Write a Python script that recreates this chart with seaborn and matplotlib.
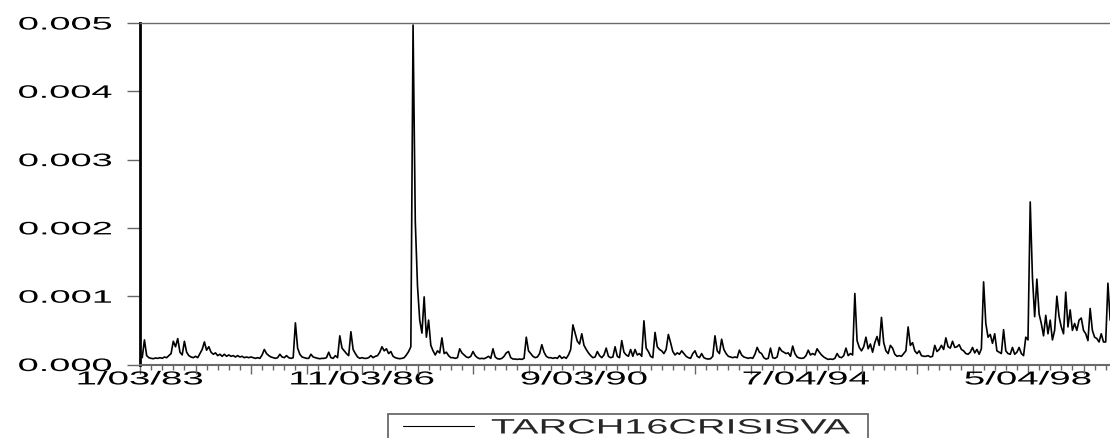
import numpy as np
import pandas as pd
import matplotlib
matplotlib.use("Agg")
import matplotlib.pyplot as plt
import seaborn as sns
from matplotlib.patheffects import AbstractPathEffect
from matplotlib.transforms import Affine2D
from matplotlib.ticker import FixedLocator, FuncFormatter
from matplotlib.patches import Rectangle
from matplotlib.lines import Line2D

# ---------------- data ----------------
SERIES_NAME = "TARCH16CRISISVA"
OBS_STEP = 10                      # one value every 10 trading-day observations
# conditional variance, in units of 1e-4
VOL_E4 = [
    1.2, 1.0, 3.6, 1.3, 1.0, 0.9, 0.85, 0.95, 0.9, 1.0,
    0.9, 1.1, 1.0, 1.3, 1.6, 3.4, 2.6, 3.8, 1.8, 1.4,
    3.4, 1.8, 1.3, 1.1, 1.0, 1.2, 1.0, 1.6, 2.2, 3.3,
    2.1, 2.6, 1.8, 1.5, 1.7, 1.3, 1.5, 1.2, 1.5, 1.2,
    1.4, 1.2, 1.3, 1.1, 1.3, 1.1, 1.2, 1.0, 1.1, 1.0,
    1.1, 1.0, 0.9, 1.0, 0.9, 1.4, 2.2, 1.6, 1.3, 1.1,
    1.0, 0.9, 1.0, 1.5, 1.1, 1.0, 1.3, 1.0, 0.9, 1.0,
    6.1, 2.4, 1.5, 1.1, 1.0, 0.9, 0.9, 1.5, 1.1, 1.0,
    0.9, 0.85, 0.9, 0.9, 1.0, 1.8, 1.0, 0.9, 1.3, 1.0,
    4.2, 2.4, 2.0, 1.6, 1.3, 4.8, 2.2, 1.6, 1.1, 0.9,
    1.0, 0.9, 0.9, 1.0, 1.3, 1.0, 1.2, 1.3, 1.8, 2.6,
    2.0, 2.3, 1.6, 1.9, 1.2, 1.0, 0.9, 0.85, 0.9, 1.0,
    1.4, 1.9, 2.6, 49.7, 21.0, 11.5, 6.5, 4.6, 9.9, 4.0,
    6.5, 2.8, 2.0, 1.4, 2.0, 1.7, 3.9, 1.6, 1.8, 1.3,
    1.0, 1.0, 0.9, 1.0, 2.3, 1.7, 1.4, 1.1, 1.0, 1.2,
    1.9, 1.3, 1.0, 0.85, 0.9, 0.85, 1.0, 1.2, 0.9, 2.3,
    1.1, 0.85, 0.8, 0.9, 1.2, 1.7, 1.9, 1.0, 0.8, 0.8,
    0.75, 0.8, 0.75, 0.9, 4.0, 2.0, 1.6, 1.2, 1.0, 1.1,
    1.6, 2.9, 1.8, 1.2, 1.0, 1.0, 0.9, 1.0, 0.9, 1.3,
    0.9, 1.1, 0.9, 1.4, 2.2, 5.8, 4.6, 3.4, 3.0, 4.5,
    2.8, 2.2, 1.7, 1.3, 1.0, 1.1, 1.9, 1.3, 1.0, 1.4,
    2.4, 1.2, 1.0, 1.1, 2.6, 1.2, 1.0, 3.5, 1.8, 1.4,
    1.2, 2.2, 1.2, 2.2, 1.4, 1.6, 1.2, 6.4, 2.4, 1.9,
    1.2, 1.0, 4.7, 2.6, 2.2, 2.0, 1.6, 2.2, 4.4, 3.2,
    1.9, 1.4, 1.7, 1.5, 2.0, 1.6, 1.2, 1.0, 0.9, 1.6,
    2.0, 1.2, 1.0, 1.6, 1.0, 0.85, 0.8, 0.85, 1.2, 4.2,
    2.0, 1.6, 3.7, 2.2, 1.6, 1.2, 1.1, 1.0, 1.1, 1.0,
    2.1, 1.4, 1.1, 1.0, 0.9, 1.0, 0.9, 1.5, 2.5, 1.8,
    1.6, 1.0, 0.8, 0.9, 2.4, 1.0, 0.9, 1.1, 2.5, 2.0,
    1.8, 1.6, 1.7, 1.2, 2.7, 1.6, 1.1, 0.95, 0.9, 0.95,
    1.3, 2.1, 1.4, 1.6, 1.4, 2.3, 1.8, 1.4, 1.1, 0.9,
    0.75, 0.8, 0.75, 0.9, 1.6, 1.1, 1.0, 1.3, 2.4, 1.3,
    1.6, 1.4, 10.4, 3.5, 2.5, 2.0, 2.6, 4.0, 2.3, 3.0,
    1.8, 3.2, 4.1, 2.8, 6.9, 3.2, 2.0, 1.6, 2.8, 2.4,
    1.5, 1.2, 1.3, 1.2, 1.6, 2.0, 5.5, 2.8, 3.2, 2.0,
    1.6, 2.0, 1.3, 1.2, 1.2, 1.3, 1.1, 1.2, 2.8, 1.9,
    2.2, 2.8, 2.2, 3.9, 2.6, 2.4, 3.4, 2.5, 2.6, 2.9,
    2.2, 2.0, 1.6, 1.5, 1.8, 2.5, 1.7, 2.2, 1.5, 2.3,
    12.1, 6.0, 4.0, 4.4, 3.1, 4.5, 2.0, 1.8, 1.6, 5.1,
    2.0, 1.6, 1.5, 2.5, 1.5, 1.8, 2.5, 1.6, 1.3, 4.0,
    3.6, 23.8, 12.8, 7.0, 12.5, 7.4, 6.0, 4.2, 7.2, 4.5,
    6.5, 3.6, 5.0, 10.0, 7.0, 5.5, 4.5, 10.6, 5.5, 8.0,
    5.0, 6.0, 5.0, 6.5, 6.8, 5.0, 4.5, 3.5, 8.2, 5.0,
    4.0, 3.8, 3.3, 4.5, 3.3, 3.3, 11.9, 6.5,
]
TICK_OBS = [0, 1000, 2000, 3000, 4000]
TICK_LABELS = ["1/03/83", "11/03/86", "9/03/90", "7/04/94", "5/04/98"]
Y_TICKS = [0.000, 0.001, 0.002, 0.003, 0.004, 0.005]

df = pd.DataFrame({
    "obs": np.arange(len(VOL_E4)) * OBS_STEP,
    "value": np.array(VOL_E4) * 1e-4,
})


# horizontal stretch of drawn glyphs (text stays real text)
class HStretch(AbstractPathEffect):
    def __init__(self, sx, anchor="left"):
        super().__init__()
        self.sx = sx
        self.anchor = anchor

    def draw_path(self, renderer, gc, tpath, affine, rgbFace=None):
        ext = tpath.get_extents()
        a = {"left": ext.x0, "center": 0.5 * (ext.x0 + ext.x1), "right": ext.x1}[self.anchor]
        t = Affine2D().translate(-a, 0).scale(self.sx, 1.0).translate(a, 0) + affine
        renderer.draw_path(gc, tpath, t, rgbFace)


# ---------------- figure ----------------
sns.set_style("white")
plt.rcParams["font.family"] = ["Liberation Sans", "DejaVu Sans"]

W, H = 1110, 438
fig = plt.figure(figsize=(W / 100, H / 100), dpi=100)
left_px, right_px, top_px, bot_px = 140, 1112, 23, 364.5
ax = fig.add_axes([left_px / W, 1 - bot_px / H, (right_px - left_px) / W, (bot_px - top_px) / H])

sns.lineplot(data=df, x="obs", y="value", ax=ax, color="black", linewidth=1.2,
             label=SERIES_NAME, legend=False)

px_per_obs = 0.222
ax.set_xlim(0, (right_px - left_px) / px_per_obs)
ax.set_ylim(0, 0.005)
ax.set_xlabel("")
ax.set_ylabel("")

ax.set_yticks(Y_TICKS)
ax.yaxis.set_major_formatter(FuncFormatter(lambda v, p: f"{v:.3f}"))

major = list(range(0, int(ax.get_xlim()[1]) + 1, 250))
minor = [m for m in range(0, int(ax.get_xlim()[1]) + 1, 50) if m % 250]
ax.xaxis.set_major_locator(FixedLocator(major))
ax.xaxis.set_minor_locator(FixedLocator(minor))
lab = dict(zip(TICK_OBS, TICK_LABELS))
ax.xaxis.set_major_formatter(FuncFormatter(lambda v, p: lab.get(int(round(v)), "")))

tick_col = "#666666"
ax.tick_params(axis="y", which="major", direction="out", length=9.4, width=1.0,
               color=tick_col, labelsize=13, pad=10.8, labelcolor="black", left=True)
ax.tick_params(axis="x", which="major", direction="out", length=6.5, width=1.0,
               color=tick_col, labelsize=13.5, pad=-1.5, labelcolor="black", bottom=True)
ax.tick_params(axis="x", which="minor", direction="out", length=3.6, width=1.0,
               color=tick_col, bottom=True)

for s in ["top", "bottom"]:
    ax.spines[s].set_color("#6a6a6a")
ax.spines["top"].set_linewidth(1.0)
ax.spines["bottom"].set_linewidth(1.5)
ax.spines["left"].set_color("black")
ax.spines["left"].set_linewidth(2.0)
ax.spines["right"].set_visible(False)

# legend (box drawn separately so it fits the stretched label)
handle = Line2D([], [], color="black", linewidth=0.8)
leg = fig.legend([handle], [SERIES_NAME], loc="center left",
                 bbox_to_anchor=(403 / W, 1 - 428 / H), frameon=False, fontsize=15,
                 handlelength=3.43, handletextpad=0.81, borderpad=0, borderaxespad=0)
for t in leg.get_texts():
    t.set_path_effects([HStretch(1.9, "left")])
fig.add_artist(Rectangle((388 / W, 1 - 450 / H), (868 - 388) / W, (450 - 414) / H,
                         transform=fig.transFigure, fill=False, edgecolor="#6a6a6a",
                         linewidth=1.3))

fig.canvas.draw()
for t in ax.get_yticklabels():
    t.set_path_effects([HStretch(2.1, "right")])
for t in ax.get_xticklabels():
    t.set_path_effects([HStretch(2.05, "center")])

fig.savefig("out.png", dpi=100)
